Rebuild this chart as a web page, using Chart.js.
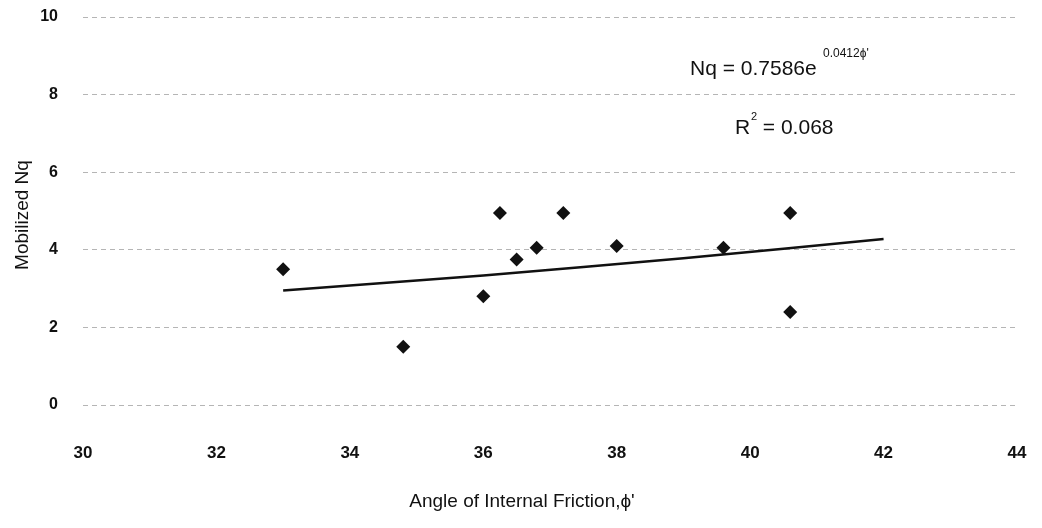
<!DOCTYPE html>
<html>
<head>
<meta charset="utf-8">
<script src="https://cdn.jsdelivr.net/npm/chart.js@4.4.1/dist/chart.umd.min.js"></script>
<style>
  body { margin: 0; background: #fff; }
  canvas { display: block; }
</style>
</head>
<body>
<canvas id="canvas" width="1042" height="528"></canvas>
<script>
const frictionAngle = [33.0, 34.8, 36.0, 36.25, 36.5, 36.8, 37.2, 38.0, 39.6, 40.6, 40.6]
const mobilizedNq = [3.5, 1.5, 2.8, 4.95, 3.75, 4.05, 4.95, 4.1, 4.05, 4.95, 2.4]

/* Trend line points. */
const trendAngle = [33, 36, 39, 42]
const trendNq = [2.95, 3.34, 3.78, 4.28]

/* Axis ticks. */
const xTicks = [30, 32, 34, 36, 38, 40, 42, 44]
const yTicks = [0, 2, 4, 6, 8, 10]

const points = frictionAngle.map((x, i) => ({ x, y: mobilizedNq[i] }))
const trend = trendAngle.map((x, i) => ({ x, y: trendNq[i] }))

/* Plugin for the axis titles and the fit equation. */
const textPlugin = {
  id: "texts",
  afterDraw(chart) {
    const ctx = chart.ctx
    ctx.save()
    ctx.fillStyle = "#111"
    ctx.textBaseline = "middle"

    /* y axis title */
    ctx.save()
    ctx.translate(23, 215)
    ctx.rotate(-Math.PI / 2)
    ctx.textAlign = "center"
    ctx.font = "19px 'Liberation Sans', Arial, sans-serif"
    ctx.fillText("Mobilized Nq", 0, 0)
    ctx.restore()

    /* x axis title */
    ctx.textAlign = "center"
    ctx.font = "19px 'Liberation Sans Narrow', 'Liberation Sans', Arial, sans-serif"
    ctx.fillText("Angle of Internal Friction,\u03d5'", 522, 502)

    /* equation */
    ctx.textAlign = "left"
    ctx.font = "21px 'Liberation Sans', Arial, sans-serif"
    ctx.fillText("Nq = 0.7586e", 690, 69)
    ctx.font = "12px 'Liberation Sans', Arial, sans-serif"
    ctx.fillText("0.0412\u03d5'", 823, 54)
    ctx.font = "21px 'Liberation Sans', Arial, sans-serif"
    ctx.fillText("R", 735, 128)
    ctx.font = "11px 'Liberation Sans', Arial, sans-serif"
    ctx.fillText("2", 751, 117)
    ctx.font = "21px 'Liberation Sans', Arial, sans-serif"
    ctx.fillText(" = 0.068", 757, 128)
    ctx.restore()
  }
}

const ctx = document.getElementById("canvas").getContext("2d")
const chart = new Chart(ctx, {
  type: "scatter",
  data: {
    datasets: [{
      label: "Nq",
      data: points,
      pointStyle: "rectRot",
      pointRadius: 7,
      pointHoverRadius: 7,
      backgroundColor: "#111",
      borderColor: "#111",
      borderWidth: 0,
      showLine: false
    }, {
      label: "Trend",
      data: trend,
      showLine: true,
      pointRadius: 0,
      borderColor: "#111",
      borderWidth: 2.5,
      tension: 0.2
    }]
  },
  options: {
    responsive: false,
    animation: false,
    layout: {
      padding: { left: 0, right: 25, top: 17, bottom: 0 }
    },
    plugins: {
      legend: { display: false },
      tooltip: { enabled: false }
    },
    scales: {
      x: {
        type: "linear",
        min: 30,
        max: 44,
        afterBuildTicks: scale => {
          scale.ticks = xTicks.map(v => ({ value: v }))
        },
        afterFit: scale => {
          scale.height = 123
          scale.paddingLeft = 0
          scale.paddingRight = 0
        },
        grid: { display: false },
        border: { display: false },
        ticks: {
          padding: 30,
          color: "#111",
          font: { family: "'Liberation Sans Narrow', 'Liberation Sans', Arial", size: 17, weight: "bold" },
          maxRotation: 0
        }
      },
      y: {
        type: "linear",
        min: 0,
        max: 10,
        afterBuildTicks: scale => {
          scale.ticks = yTicks.map(v => ({ value: v }))
        },
        afterFit: scale => {
          scale.width = 83
          scale.paddingTop = 0
          scale.paddingBottom = 0
        },
        grid: {
          color: "#b5b5b5",
          lineWidth: 1,
          drawTicks: false
        },
        border: { display: false, dash: [5, 4] },
        ticks: {
          padding: 25,
          color: "#111",
          font: { family: "'Liberation Sans', Arial", size: 16, weight: "bold" }
        }
      }
    }
  },
  plugins: [textPlugin]
})
</script>
</body>
</html>
